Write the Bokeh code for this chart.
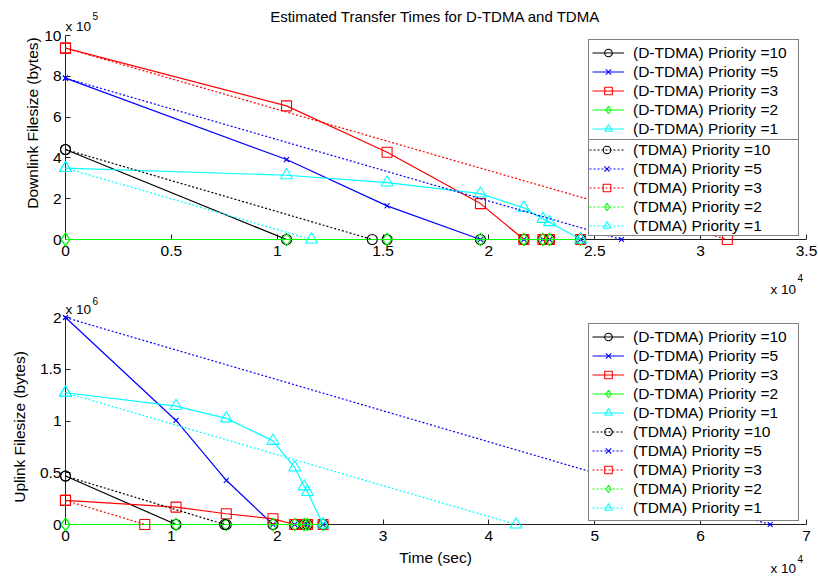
import math
from bokeh.plotting import figure
from bokeh.models import Range1d, FixedTicker, Legend, LegendItem, Label
from bokeh.layouts import column
from bokeh.embed import file_html
from bokeh.resources import INLINE

# ---------------- data ----------------
TITLE = "Estimated Transfer Times for D-TDMA and TDMA"
priorities = [10, 5, 3, 2, 1]
colors = ["#000000", "#0000ff", "#ff0000", "#00ff00", "#00ffff"]
markers = ["circle", "x", "square", "diamond", "triangle"]
marker_sizes = [10, 7, 10, 13, 12]

# D-TDMA event times (sec)
t_dtdma = [0, 10440, 15190, 19600, 21650, 22550, 22860, 24330]

# Downlink, D-TDMA remaining filesize (bytes)
dl_dtdma_p10 = [441000, 0, 0, 0, 0, 0, 0, 0]
dl_dtdma_p5 = [791000, 392000, 165000, 0, 0, 0, 0, 0]
dl_dtdma_p3 = [938000, 655000, 428000, 176000, 0, 0, 0, 0]
dl_dtdma_p2 = [0, 0, 0, 0, 0, 0, 0, 0]
dl_dtdma_p1 = [350000, 315000, 279000, 225000, 155000, 101000, 85000, 0]

# Downlink, TDMA
dl_tdma_p10_t = [0, 14490]
dl_tdma_p10 = [441000, 0]
dl_tdma_p5_t = [0, 26260]
dl_tdma_p5 = [791000, 0]
dl_tdma_p3_t = [0, 31260]
dl_tdma_p3 = [938000, 0]
dl_tdma_p2_t = [0]
dl_tdma_p2 = [0]
dl_tdma_p1_t = [0, 11620]
dl_tdma_p1 = [350000, 0]

# Uplink, D-TDMA
ul_dtdma_p10 = [468000, 0, 0, 0, 0, 0, 0, 0]
ul_dtdma_p5 = [2000000, 1005000, 427000, 0, 0, 0, 0, 0]
ul_dtdma_p3 = [233000, 168000, 104000, 55000, 0, 0, 0, 0]
ul_dtdma_p2 = [0, 0, 0, 0, 0, 0, 0, 0]
ul_dtdma_p1 = [1273000, 1144000, 1025000, 808000, 550000, 368000, 313000, 0]

# Uplink, TDMA
ul_tdma_p10_t = [0, 15040]
ul_tdma_p10 = [468000, 0]
ul_tdma_p5_t = [0, 66570]
ul_tdma_p5 = [2000000, 0]
ul_tdma_p3_t = [0, 7490]
ul_tdma_p3 = [233000, 0]
ul_tdma_p2_t = [0]
ul_tdma_p2 = [0]
ul_tdma_p1_t = [0, 42560]
ul_tdma_p1 = [1273000, 0]

# ticks
dl_x_ticks = [0, 5000, 10000, 15000, 20000, 25000, 30000, 35000]
dl_x_labels = ["0", "0.5", "1", "1.5", "2", "2.5", "3", "3.5"]
dl_y_ticks = [0, 200000, 400000, 600000, 800000, 1000000]
dl_y_labels = ["0", "2", "4", "6", "8", "10"]
ul_x_ticks = [0, 10000, 20000, 30000, 40000, 50000, 60000, 70000]
ul_x_labels = ["0", "1", "2", "3", "4", "5", "6", "7"]
ul_y_ticks = [0, 500000, 1000000, 1500000, 2000000]
ul_y_labels = ["0", "0.5", "1", "1.5", "2"]

# ---------------- style / geometry ----------------
FONT = "Liberation Sans"
FS = "15.5px"
EXP_FS = "13.5px"
SUP_FS = "10px"
W = 818
AX_LEFT, AX_RIGHT = 65, 806        # x pixel of 0 and of the x maximum


def ranges(H, y0_px, y1_px, xmax, ymax):
    sx = xmax / (AX_RIGHT - AX_LEFT)
    sy = ymax / (y0_px - y1_px)
    xr = Range1d(-AX_LEFT * sx, xmax + (W - AX_RIGHT) * sx)
    yr = Range1d(-(H - y0_px) * sy, ymax + y1_px * sy)
    return xr, yr


def make_fig(H, y0_px, y1_px, xt, xl, yt, yl):
    xmax, ymax = xt[-1], yt[-1]
    xr, yr = ranges(H, y0_px, y1_px, xmax, ymax)
    p = figure(width=W, height=H, output_backend="svg", toolbar_location=None,
               x_range=xr, y_range=yr, min_border=0,
               background_fill_color="white", border_fill_color="white")
    p.title.visible = False
    p.xgrid.visible = False
    p.ygrid.visible = False
    p.outline_line_color = None
    p.xaxis.ticker = FixedTicker(ticks=xt)
    p.yaxis.ticker = FixedTicker(ticks=yt)
    p.xaxis.major_label_overrides = {t: l for t, l in zip(xt, xl)}
    p.yaxis.major_label_overrides = {t: l for t, l in zip(yt, yl)}
    for ax in (p.xaxis, p.yaxis):
        ax.fixed_location = 0
        ax.major_tick_in = 5
        ax.major_tick_out = 0
        ax.minor_tick_in = 0
        ax.minor_tick_out = 0
        ax.axis_line_color = "#222222"
        ax.major_tick_line_color = "#222222"
        ax.major_label_text_font = FONT
        ax.major_label_text_font_size = FS
        ax.major_label_text_color = "black"
        ax.level = "underlay"
    p.xaxis.major_label_standoff = 6
    p.yaxis.major_label_standoff = 4
    p.xaxis.bounds = (0, xmax)
    p.yaxis.bounds = (0, ymax)
    return p


def add_series(p, t, y, i, dash):
    r1 = p.line(t, y, line_color=colors[i], line_width=1.2, line_dash=dash)
    r2 = p.scatter(t, y, marker=markers[i], size=marker_sizes[i],
                   line_color=colors[i], fill_alpha=0, line_width=1.1)
    return [r1, r2]


def make_legend(items, loc, padding=3, glyph_width=32, label_width=162):
    return Legend(items=items, location=loc, orientation="vertical",
                  border_line_color="black", border_line_width=1,
                  background_fill_color="white", background_fill_alpha=1.0,
                  label_text_font=FONT, label_text_font_size=FS,
                  label_text_color="black",
                  label_height=19, glyph_height=19, glyph_width=glyph_width,
                  label_width=label_width, label_standoff=9, spacing=-1,
                  padding=padding, margin=0)


def lab(p, x, y, text, size=FS, align="left", baseline="alphabetic", angle=0.0):
    p.add_layout(Label(x=x, y=y, x_units="screen", y_units="screen", text=text,
                       text_font=FONT, text_font_size=size, text_align=align,
                       text_baseline=baseline, angle=angle, text_color="black"))


# ---------------- downlink figure ----------------
H1 = 266
p1 = make_fig(H1, 239, 35, dl_x_ticks, dl_x_labels, dl_y_ticks, dl_y_labels)

dl_dtdma = [dl_dtdma_p10, dl_dtdma_p5, dl_dtdma_p3, dl_dtdma_p2, dl_dtdma_p1]
dl_tdma = [(dl_tdma_p10_t, dl_tdma_p10), (dl_tdma_p5_t, dl_tdma_p5),
           (dl_tdma_p3_t, dl_tdma_p3), (dl_tdma_p2_t, dl_tdma_p2),
           (dl_tdma_p1_t, dl_tdma_p1)]
items_a, items_b = [], []
for i, ys in enumerate(dl_dtdma):
    rs = add_series(p1, t_dtdma, ys, i, "solid")
    items_a.append(LegendItem(label=f"(D-TDMA) Priority ={priorities[i]}", renderers=rs))
for i, (ts, ys) in enumerate(dl_tdma):
    rs = add_series(p1, ts, ys, i, "2 2")
    items_b.append(LegendItem(label=f"(TDMA) Priority ={priorities[i]}", renderers=rs))
# two stacked legend boxes: the upper one's lower edge is the divider line
p1.add_layout(make_legend(items_a, (588, 124)))
p1.add_layout(make_legend(items_b, (588, 30), padding=0, glyph_width=35,
                          label_width=165))

lab(p1, 435, 250, TITLE, size="15px", align="center", baseline="middle")
lab(p1, 32, 143.5, "Downlink Filesize (bytes)", align="center", baseline="middle",
    angle=math.pi / 2)
lab(p1, 65, 240, "x 10", size=EXP_FS)
lab(p1, 92, 251, "5", size=SUP_FS)

# ---------------- uplink figure ----------------
H2 = 310
p2 = make_fig(H2, 258, 51, ul_x_ticks, ul_x_labels, ul_y_ticks, ul_y_labels)

ul_dtdma = [ul_dtdma_p10, ul_dtdma_p5, ul_dtdma_p3, ul_dtdma_p2, ul_dtdma_p1]
ul_tdma = [(ul_tdma_p10_t, ul_tdma_p10), (ul_tdma_p5_t, ul_tdma_p5),
           (ul_tdma_p3_t, ul_tdma_p3), (ul_tdma_p2_t, ul_tdma_p2),
           (ul_tdma_p1_t, ul_tdma_p1)]
items_c = []
for i, ys in enumerate(ul_dtdma):
    rs = add_series(p2, t_dtdma, ys, i, "solid")
    items_c.append(LegendItem(label=f"(D-TDMA) Priority ={priorities[i]}", renderers=rs))
for i, (ts, ys) in enumerate(ul_tdma):
    rs = add_series(p2, ts, ys, i, "2 2")
    items_c.append(LegendItem(label=f"(TDMA) Priority ={priorities[i]}", renderers=rs))
p2.add_layout(make_legend(items_c, (588, 55)))

# exponent of the downlink time axis (sits just under the upper chart)
lab(p2, 770, 287, "x 10", size=EXP_FS)
lab(p2, 797, 299, "4", size=SUP_FS)

lab(p2, 19, 149.5, "Uplink Filesize (bytes)", align="center", baseline="middle",
    angle=math.pi / 2)
lab(p2, 435, 19, "Time (sec)", align="center", baseline="middle")
lab(p2, 65, 267, "x 10", size=EXP_FS)
lab(p2, 92, 276, "6", size=SUP_FS)
lab(p2, 770, 8, "x 10", size=EXP_FS)
lab(p2, 797, 18, "4", size=SUP_FS)

layout = column(p1, p2)
open("out.html", "w").write(file_html(layout, INLINE))
